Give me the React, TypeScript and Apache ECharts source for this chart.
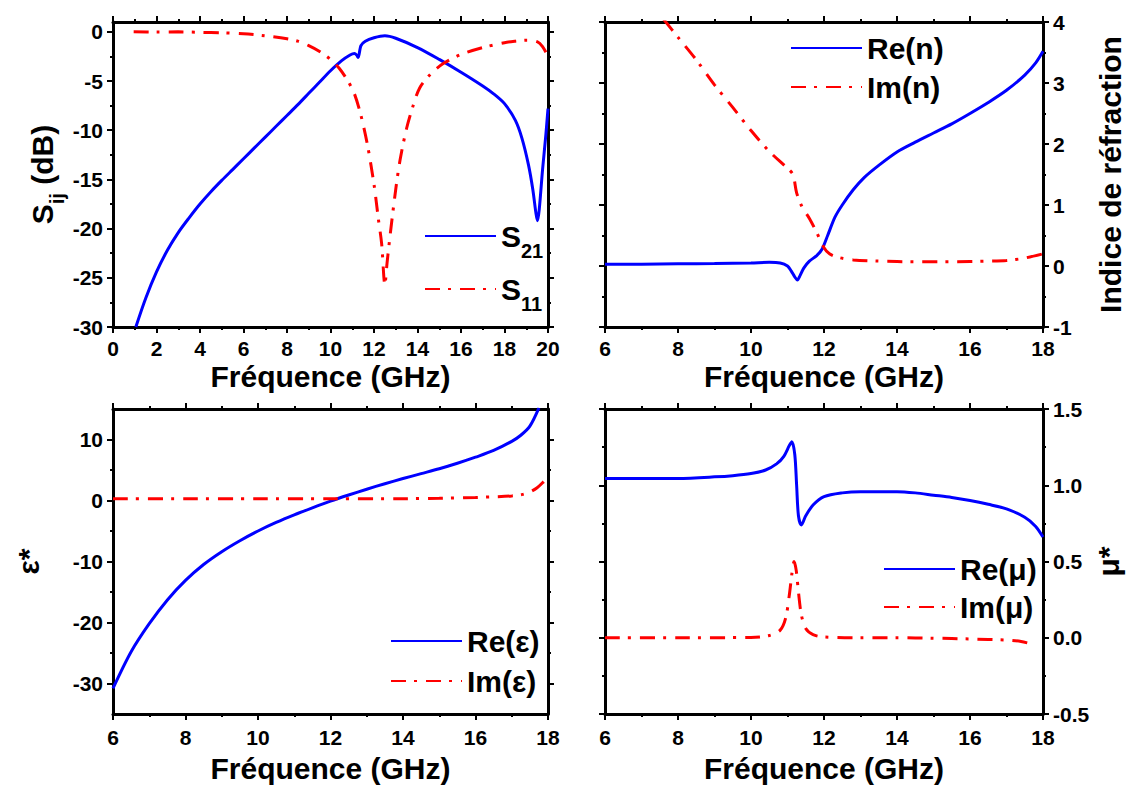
import React, { useEffect, useRef } from 'react';
import * as echarts from 'echarts';

// ---------- data ----------
const s21: [number, number][] = [
  [1.05, -30], [1.5, -27.1], [2, -24.4], [2.5, -22.2], [3, -20.4], [3.5, -18.9], [4, -17.5], [4.5, -16.25],
  [5, -15.1], [5.5, -14.0], [6, -12.9], [6.5, -11.8], [7, -10.7], [7.5, -9.6], [8, -8.5], [8.5, -7.4],
  [9, -6.25], [9.5, -5.1], [10, -3.95], [10.5, -2.95], [10.9, -2.35],
  [11.1, -2.2], [11.2, -2.35], [11.27, -2.6], [11.4, -1.4], [11.6, -0.95], [12, -0.6], [12.5, -0.4],
  [13, -0.65], [14, -1.6], [15, -2.8], [16, -4.1], [17, -5.5], [17.5, -6.3], [18, -7.3], [18.5, -9.0],
  [18.8, -10.8], [19.1, -13.5], [19.3, -16], [19.45, -18.5], [19.52, -19.2], [19.6, -18], [19.75, -14],
  [19.9, -10.5], [20, -7.8],
];
const s11: [number, number][] = [
  [0.95, 0], [2, -0.02], [3, 0], [4, -0.05], [5, -0.1], [6, -0.2], [7, -0.4], [8, -0.7], [8.5, -0.95],
  [9, -1.4], [9.5, -2.0], [10, -2.8], [10.4, -3.7], [10.8, -5], [11.1, -6.3], [11.4, -8.5], [11.7, -11.5],
  [12, -15.5], [12.2, -19], [12.35, -21.5], [12.5, -25.7], [12.6, -23.5], [12.75, -20.5], [13, -16],
  [13.2, -13], [13.5, -9.8], [13.8, -7.5], [14.1, -5.7], [14.6, -4.3], [15.2, -3.2], [16, -2.3],
  [17, -1.6], [18, -1.1], [18.5, -0.95], [19, -0.85], [19.5, -1.0], [19.75, -1.5], [20, -2.5],
];
const reN: [number, number][] = [
  [6, 0.03], [7, 0.03], [8, 0.035], [9, 0.04], [10, 0.05], [10.5, 0.06], [10.8, 0.05], [11.0, 0.0],
  [11.1, -0.08], [11.2, -0.18], [11.27, -0.23], [11.35, -0.15], [11.45, -0.03], [11.6, 0.08],
  [11.8, 0.17], [11.95, 0.28], [12.1, 0.5], [12.3, 0.8], [12.5, 1.0], [12.8, 1.25], [13.1, 1.45],
  [13.5, 1.65], [14, 1.87], [14.5, 2.03], [15, 2.18], [15.5, 2.33], [16, 2.5], [16.5, 2.68], [17, 2.88],
  [17.5, 3.13], [17.8, 3.33], [18, 3.52],
];
const imN: [number, number][] = [
  [7.6, 4.05], [8, 3.75], [8.5, 3.38], [9, 2.97], [9.5, 2.6], [10, 2.22], [10.5, 1.88], [11, 1.6],
  [11.15, 1.5], [11.25, 1.2], [11.4, 0.97], [11.6, 0.78], [11.8, 0.55], [12, 0.3], [12.15, 0.2],
  [12.4, 0.14], [12.8, 0.1], [13.5, 0.08], [14.5, 0.07], [15.5, 0.07], [16.5, 0.08], [17, 0.09],
  [17.5, 0.13], [18, 0.2],
];
const reEps: [number, number][] = [
  [6, -30.8], [6.5, -24.8], [7, -20.2], [7.5, -16.3], [8, -13.1], [8.5, -10.5], [9, -8.4], [9.5, -6.6],
  [10, -5.0], [10.5, -3.6], [11, -2.35], [11.5, -1.2], [12, -0.1], [12.5, 0.9], [13, 1.85], [13.5, 2.75],
  [14, 3.6], [14.5, 4.4], [15, 5.2], [15.5, 6.1], [16, 7.1], [16.5, 8.2], [17, 9.7], [17.25, 10.7],
  [17.5, 12.2], [17.75, 15.2],
];
const imEps: [number, number][] = [
  [6, 0.3], [8, 0.3], [10, 0.3], [12, 0.3], [14, 0.3], [15, 0.35], [16, 0.5], [16.5, 0.6], [17, 0.75],
  [17.3, 1.0], [17.5, 1.4], [17.7, 2.1], [17.85, 2.9], [18, 3.9],
];
const reMu: [number, number][] = [
  [6, 1.044], [7, 1.044], [8, 1.045], [9, 1.055], [9.5, 1.063], [10, 1.077], [10.4, 1.1], [10.7, 1.14],
  [10.9, 1.19], [11.05, 1.26], [11.12, 1.285], [11.2, 1.2], [11.25, 1.0], [11.3, 0.8], [11.38, 0.74],
  [11.5, 0.8], [11.7, 0.87], [12, 0.925], [12.5, 0.95], [13, 0.958], [14, 0.958], [14.5, 0.95],
  [15, 0.935], [15.5, 0.92], [16, 0.9], [16.5, 0.875], [17, 0.845], [17.5, 0.79], [17.8, 0.73], [18, 0.66],
];
const imMu: [number, number][] = [
  [6, 0], [8, 0], [10, 0.002], [10.5, 0.015], [10.8, 0.05], [10.95, 0.13], [11.05, 0.28], [11.12, 0.42],
  [11.18, 0.5], [11.24, 0.44], [11.3, 0.3], [11.38, 0.15], [11.5, 0.06], [11.7, 0.02], [12, 0.005],
  [13, 0], [14, 0], [15, -0.003], [16, -0.008], [17, -0.015], [17.4, -0.025], [17.75, -0.045],
];

// ---------- ticks ----------
const xTicksWide = [0, 2, 4, 6, 8, 10, 12, 14, 16, 18, 20];
const xMinorWide = [1, 3, 5, 7, 9, 11, 13, 15, 17, 19];
const xTicksNarrow = [6, 8, 10, 12, 14, 16, 18];
const xMinorNarrow = [7, 9, 11, 13, 15, 17];
const yTicksS = [-30, -25, -20, -15, -10, -5, 0];
const yMinorS = [-27.5, -22.5, -17.5, -12.5, -7.5, -2.5];
const yTicksN = [-1, 0, 1, 2, 3, 4];
const yMinorN = [-0.5, 0.5, 1.5, 2.5, 3.5];
const yTicksE = [-30, -20, -10, 0, 10];
const yMinorE = [-25, -15, -5, 5];
const yTicksM = [-0.5, 0, 0.5, 1, 1.5];
const yMinorM = [-0.25, 0.25, 0.75, 1.25];

const FONT = "'Liberation Sans', Arial, Helvetica, sans-serif";
const BLUE = '#0000ff';
const RED = '#ff0000';
const DASHDOT = [15, 8, 3, 9];

function axisPair(
  gridIndex: number, pos: string, min: number, max: number,
  majors: number[], minors: number[], showLabels: boolean, extra: any = {}, labelExtra: any = {},
) {
  const common = { type: 'value', gridIndex, position: pos, min, max, splitLine: { show: false } };
  const major = {
    ...common,
    axisLine: { show: true, onZero: false, lineStyle: { color: '#000', width: 3 } },
    axisTick: { show: true, inside: false, length: 6, lineStyle: { color: '#000', width: 2 }, customValues: majors },
    axisLabel: {
      show: showLabels, customValues: majors, color: '#000', fontSize: 21, fontWeight: 'bold',
      fontFamily: FONT, margin: 10, ...labelExtra,
    },
    ...extra,
  };
  const minor = {
    ...common,
    axisLine: { show: false, onZero: false },
    axisTick: { show: true, inside: false, length: 3, lineStyle: { color: '#000', width: 2 }, customValues: minors },
    axisLabel: { show: false },
  };
  return [major, minor];
}

const nameStyle = { color: '#000', fontSize: 30, fontWeight: 'bold', fontFamily: FONT, lineHeight: 30 };
const subRich = {
  s: { fontSize: 30, fontWeight: 'bold', fontFamily: FONT, color: '#000', lineHeight: 30, verticalAlign: 'middle' },
  sub: { fontSize: 20, fontWeight: 'bold', fontFamily: FONT, color: '#000', lineHeight: 16, padding: [20, 0, 0, 0], verticalAlign: 'top' },
};

const xName = (gap: number) => ({
  name: 'Fréquence (GHz)', nameLocation: 'middle', nameGap: gap, nameTextStyle: nameStyle,
});

function buildOption() {
  const grids = [
    { left: 113, top: 22, width: 435, height: 305 },
    { left: 605, top: 22, width: 438, height: 305 },
    { left: 113, top: 409, width: 435, height: 305 },
    { left: 605, top: 409, width: 438, height: 305 },
  ];
  const xAxes: any[] = [];
  const yAxes: any[] = [];
  // panel 0
  xAxes.push(...axisPair(0, 'bottom', 0, 20, xTicksWide, xMinorWide, true, xName(34), { margin: 11 }));
  xAxes.push(...axisPair(0, 'top', 0, 20, xTicksWide, xMinorWide, false));
  yAxes.push(...axisPair(0, 'left', -30, 1, yTicksS, yMinorS, true, {
    name: '{s|S}{sub|ij}{s| (dB)}', nameLocation: 'middle', nameRotate: 90, nameGap: 56,
    nameTextStyle: { ...nameStyle, rich: subRich },
  }));
  yAxes.push(...axisPair(0, 'right', -30, 1, yTicksS, yMinorS, false));
  // panel 1
  xAxes.push(...axisPair(1, 'bottom', 6, 18, xTicksNarrow, xMinorNarrow, true, xName(34), { margin: 11 }));
  xAxes.push(...axisPair(1, 'top', 6, 18, xTicksNarrow, xMinorNarrow, false));
  yAxes.push(...axisPair(1, 'left', -1, 4, yTicksN, yMinorN, false));
  yAxes.push(...axisPair(1, 'right', -1, 4, yTicksN, yMinorN, true, {
    name: 'Indice de réfraction', nameLocation: 'middle', nameRotate: 90, nameGap: 52, nameTextStyle: nameStyle,
  }));
  // panel 2
  xAxes.push(...axisPair(2, 'bottom', 6, 18, xTicksNarrow, xMinorNarrow, true, xName(39), { margin: 13 }));
  xAxes.push(...axisPair(2, 'top', 6, 18, xTicksNarrow, xMinorNarrow, false));
  yAxes.push(...axisPair(2, 'left', -35, 15, yTicksE, yMinorE, true, {
    name: 'ε*', nameLocation: 'middle', nameRotate: 90, nameGap: 70, nameTextStyle: nameStyle,
  }));
  yAxes.push(...axisPair(2, 'right', -35, 15, yTicksE, yMinorE, false));
  // panel 3
  xAxes.push(...axisPair(3, 'bottom', 6, 18, xTicksNarrow, xMinorNarrow, true, xName(39), { margin: 13 }));
  xAxes.push(...axisPair(3, 'top', 6, 18, xTicksNarrow, xMinorNarrow, false));
  yAxes.push(...axisPair(3, 'left', -0.5, 1.5, yTicksM, yMinorM, false));
  yAxes.push(...axisPair(3, 'right', -0.5, 1.5, yTicksM, yMinorM, true, {
    name: 'μ*', nameLocation: 'middle', nameRotate: 90, nameGap: 48, nameTextStyle: nameStyle,
  }, { formatter: (v: number) => v.toFixed(1) }));

  const line = (name: string, data: [number, number][], g: number, red: boolean) => ({
    type: 'line', name, data, xAxisIndex: 4 * g, yAxisIndex: 4 * g,
    symbol: 'none', showSymbol: false, smooth: 0.3, clip: true,
    lineStyle: { color: red ? RED : BLUE, width: 3, type: red ? DASHDOT : 'solid' },
    itemStyle: { color: red ? RED : BLUE },
  });

  const legendText = { color: '#000', fontSize: 30, fontWeight: 'bold', fontFamily: FONT, lineHeight: 30 };
  const legendBase = {
    orient: 'vertical', itemWidth: 71, itemHeight: 3, padding: 0, selectedMode: false,
    textStyle: legendText, itemStyle: { opacity: 0 },
  };

  return {
    animation: false,
    backgroundColor: '#fff',
    grid: grids,
    xAxis: xAxes,
    yAxis: yAxes,
    legend: [
      {
        ...legendBase, data: ['S21', 'S11'], left: 424, top: 221, itemGap: 13,
        formatter: (n: string) => `{s|S}{sub|${n.slice(1)}}`,
        textStyle: { ...legendText, rich: subRich },
      },
      { ...legendBase, data: ['Re(n)', 'Im(n)'], left: 790, top: 33, itemGap: 9 },
      { ...legendBase, data: ['Re(ε)', 'Im(ε)'], left: 390, top: 626, itemGap: 10 },
      { ...legendBase, data: ['Re(μ)', 'Im(μ)'], left: 883, top: 554, itemGap: 8 },
    ],
    series: [
      line('S21', s21, 0, false),
      line('S11', s11, 0, true),
      line('Re(n)', reN, 1, false),
      line('Im(n)', imN, 1, true),
      line('Re(ε)', reEps, 2, false),
      line('Im(ε)', imEps, 2, true),
      line('Re(μ)', reMu, 3, false),
      line('Im(μ)', imMu, 3, true),
    ],
  };
}

export default function App() {
  const ref = useRef<HTMLDivElement>(null);
  useEffect(() => {
    if (!ref.current) return;
    const chart = echarts.init(ref.current, null, { renderer: 'svg' });
    chart.setOption(buildOption() as any);
    return () => chart.dispose();
  }, []);
  return (
    <div
      ref={ref}
      style={{ position: 'absolute', left: 0, top: 0, width: 1143, height: 787, background: '#fff' }}
    />
  );
}
